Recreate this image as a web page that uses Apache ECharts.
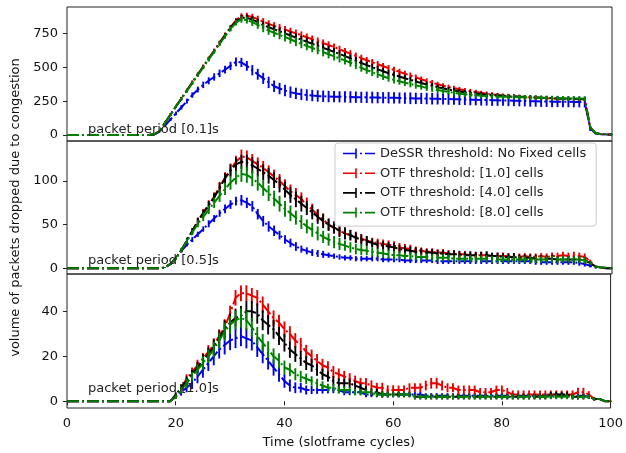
<!DOCTYPE html>
<html>
<head>
<meta charset="utf-8">
<script src="https://cdn.jsdelivr.net/npm/echarts@6/dist/echarts.min.js"></script>
<style>
html,body{margin:0;padding:0;background:#fff;}
#chart{width:626px;height:453px;}
</style>
</head>
<body>
<div id="chart"></div>
<script>
// ---- x samples (slotframe cycles) ----
const X = [0,1,2,3,4,5,6,7,8,9,10,11,12,13,14,15,16,17,18,19,20,21,22,23,24,25,26,27,28,29,30,31,32,33,34,35,36,37,38,39,40,41,42,43,44,45,46,47,48,49,50,51,52,53,54,55,56,57,58,59,60,61,62,63,64,65,66,67,68,69,70,71,72,73,74,75,76,77,78,79,80,81,82,83,84,85,86,87,88,89,90,91,92,93,94,95,96,97,98,99,100];

const SERIES_NAMES = ['DeSSR threshold: No Fixed cells','OTF threshold: [1.0] cells','OTF threshold: [4.0] cells','OTF threshold: [8.0] cells'];
const PANEL_LABELS = ['packet period [0.1]s','packet period [0.5]s','packet period [1.0]s'];
const X_TICKS = [0,20,40,60,80,100];
const Y_TICKS = [[0,250,500,750],[0,50,100],[0,20,40]];

// ---- panel 1: packet period 0.1 s ----
const blue1 = [0,0,0,0,0,0,0,0,0,0, 0,0,0,0,0,0,4,25,70,115, 160,205,250,295,335,370,400,428,455,482, 510,540,535,510,478,448,418,388,360,343, 328,316,307,300,295,291,288,286,284,283, 282,281,280,279,278,278,277,276,275,275, 274,273,272,271,270,270,269,268,267,266, 265,264,263,262,261,260,259,258,257,256, 255,254,253,252,251,250,249,248,247,246, 246,245,245,244,244,243,50,12,5,4, 3];
const red1 = [0,0,0,0,0,0,0,0,0,0, 0,0,0,0,0,0,5,30,92,152, 212,270,330,390,448,506,565,623,682,740, 795,845,878,880,870,855,836,820,805,791, 777,763,750,736,721,706,692,678,664,648, 632,616,600,583,567,551,537,522,507,493, 480,466,452,439,425,411,398,386,374,363, 353,345,337,330,323,317,311,305,300,296, 292,289,286,283,280,278,276,274,272,270, 268,267,266,265,264,262,55,14,6,5, 4];
const black1 = [0,0,0,0,0,0,0,0,0,0, 0,0,0,0,0,0,5,30,91,151, 211,269,328,387,445,503,561,619,677,734, 789,836,864,864,851,833,811,795,780,764, 749,734,718,703,688,673,658,643,629,613, 598,582,566,549,531,515,500,485,470,456, 443,431,419,407,395,384,373,363,353,344, 335,328,321,315,310,305,301,297,294,291, 288,286,284,282,280,278,276,274,273,272, 270,269,268,267,266,265,55,14,6,5, 4];
const green1 = [0,0,0,0,0,0,0,0,0,0, 0,0,0,0,0,0,5,30,90,150, 210,268,326,384,442,500,558,615,672,728, 782,828,852,848,832,812,788,770,754,738, 722,706,688,672,657,642,626,611,596,580, 565,550,533,515,496,479,463,448,433,419, 406,396,386,376,366,357,348,340,332,325, 318,311,305,300,296,293,290,288,286,284, 283,282,280,279,278,277,276,275,274,273, 272,271,270,270,269,268,55,15,6,5, 4];
const blue1Err = [0,0,0,0,0,0,0,0,0,0, 0,0,0,0,0,0,3,6,9,12, 14,16,18,20,22,24,26,27,28,29, 30,32,34,36,38,40,41,42,42,42, 42,42,42,42,42,42,42,42,42,42, 41,42,43,42,41,42,43,42,41,42, 42,41,42,43,42,41,42,43,42,41, 42,41,42,41,42,41,42,41,42,41, 40,41,40,41,40,41,40,41,40,41, 40,40,40,40,40,40,20,6,3,3, 2];
const red1Err = [0,0,0,0,0,0,0,0,0,0, 0,0,0,0,0,0,3,6,8,10, 11,12,12,13,13,14,14,15,15,16, 17,18,20,22,24,25,26,26,27,27, 27,28,28,28,28,28,27,27,27,27, 26,26,26,25,25,25,24,24,24,23, 23,22,22,22,21,21,20,20,19,19, 18,18,18,17,17,17,16,16,16,15, 15,15,15,14,14,14,14,14,13,13, 13,13,13,13,13,13,10,5,3,3, 2];
const black1Err = [0,0,0,0,0,0,0,0,0,0, 0,0,0,0,0,0,3,6,8,10, 11,12,13,13,14,14,15,15,16,17, 18,20,22,24,26,27,28,28,29,29, 29,30,30,30,30,29,29,29,28,28, 28,27,27,27,26,26,25,25,25,24, 24,23,23,22,22,21,21,20,20,19, 19,18,18,17,17,17,16,16,16,15, 15,15,15,14,14,14,14,14,13,13, 13,13,13,13,13,13,10,5,3,3, 2];
const green1Err = [0,0,0,0,0,0,0,0,0,0, 0,0,0,0,0,0,3,6,8,10, 11,12,13,14,14,15,16,16,17,18, 19,21,24,26,28,29,30,31,31,32, 32,32,32,32,32,31,31,31,31,30, 30,30,29,29,29,28,28,27,27,26, 26,25,25,24,24,23,23,22,22,21, 21,20,20,19,19,19,18,18,18,18, 17,17,17,17,17,17,17,17,17,17, 17,17,17,17,17,17,12,5,3,3, 2];

// ---- panel 2: packet period 0.5 s ----
const blue2 = [0,0,0,0,0,0,0,0,0,0, 0,0,0,0,0,0,0,0,1,5, 12,20,27,33,39,45,51,57,63,68, 73,77,78,75,71,62,54,48,43,38, 33,29,25,22,20,18,17,16,15,14, 13,12,12,11,11,11,11,11,10,10, 10,10,9,9,9,9,9,9,8,8, 8,8,8,8,8,8,8,8,8,8, 8,8,8,8,8,8,7,7,7,7, 7,7,7,7,6,5,3,1,1,0, 0];
const red2 = [0,0,0,0,0,0,0,0,0,0, 0,0,0,0,0,0,0,0,1,5, 12,21,32,43,54,64,73,82,93,104, 113,122,128,127,123,119,115,110,105,100, 94,88,84,79,73,67,61,56,50,46, 43,40,38,36,34,32,30,29,28,27, 26,24,23,22,21,20,19,19,18,18, 17,17,16,16,15,15,15,15,14,14, 14,14,13,13,14,13,13,14,13,14, 14,15,14,15,14,13,8,2,1,0, 0];
const black2 = [0,0,0,0,0,0,0,0,0,0, 0,0,0,0,0,0,0,0,1,5, 12,21,32,43,54,63,72,81,92,103, 112,119,122,121,118,114,110,106,101,96, 90,84,79,74,69,64,59,54,50,47, 43,40,38,35,33,31,29,27,26,25, 24,22,21,20,19,19,18,18,17,17, 16,16,16,15,15,15,15,15,14,14, 13,13,13,12,12,12,11,11,11,11, 10,10,10,10,10,9,6,2,1,0, 0];
const green2 = [0,0,0,0,0,0,0,0,0,0, 0,0,0,0,0,0,0,0,1,5, 12,21,31,41,51,59,67,75,83,91, 98,104,108,107,103,98,92,86,80,74, 68,63,58,53,48,44,40,36,33,30, 28,26,24,22,21,20,19,18,17,16, 15,15,14,14,13,13,13,12,12,12, 12,11,11,11,11,11,11,11,10,10, 10,10,10,10,10,10,10,10,10,10, 10,10,10,10,10,9,6,2,1,1, 0];
const blue2Err = [0,0,0,0,0,0,0,0,0,0, 0,0,0,0,0,0,0,0,0.5,1, 2,2,2,3,3,3,4,4,4,5, 5,5,6,6,6,6,6,6,6,5, 5,5,5,4,4,4,4,4,3,3, 3,3,3,3,3,3,3,3,3,3, 3,3,3,3,3,3,3,3,3,3, 3,3,3,3,3,3,3,3,3,3, 3,3,3,3,3,3,3,3,3,3, 3,3,3,3,3,3,2,1,0.5,0.5, 0.5];
const red2Err = [0,0,0,0,0,0,0,0,0,0, 0,0,0,0,0,0,0,0,0.5,1, 2,2,3,3,4,4,5,5,6,6, 7,7,8,8,8,8,8,8,8,8, 8,8,8,8,8,7,7,7,7,6, 6,6,6,6,5,5,5,5,5,5, 5,5,5,5,4,4,4,4,4,4, 4,4,3.5,4,4,3.5,4,4,3.5,4, 4,3.5,4,4,3.5,4,4,3.5,4,4, 4,4,4,4,4,4,2,1,0.5,0.5, 0.5];
const black2Err = [0,0,0,0,0,0,0,0,0,0, 0,0,0,0,0,0,0,0,0.5,1, 2,2,3,3,4,4,5,5,6,6, 7,8,8,9,9,9,9,9,9,9, 9,9,9,9,8,8,8,8,7,7, 7,7,6,6,6,6,5,5,5,5, 5,5,5,5,5,4,4,4,4,4, 4,4.5,4,4,4.5,4,4,4.5,4,4, 4,4,4.5,4,4,4,4.5,4,4,4, 4,4,4,4,4,4,2,1,0.5,0.5, 0.5];
const green2Err = [0,0,0,0,0,0,0,0,0,0, 0,0,0,0,0,0,0,0,0.5,1, 2,2,3,3,4,5,5,6,7,7, 8,8,9,9,9,9,9,9,9,9, 9,9,8,8,8,8,8,7,7,7, 7,6,6,6,6,5,5,5,5,5, 5,5,4,4,4,4,4,4,4,4, 4,4,4,4,4,4,4,4,4,4, 4,4,4,4,4,4,4,4,4,4, 4,4,4,4,4,4,2,1,0.5,0.5, 0.5];

// ---- panel 3: packet period 1.0 s ----
const blue3 = [0,0,0,0,0,0,0,0,0,0, 0,0,0,0,0,0,0,0,0,0, 2,4,6,8,11,14,17,20,23,25, 27,28,29,28,27,24,21,18,15,12, 9,7,6,6,5,5,5,5,5,5, 5,4,4,4,4,3,3,3,3,3, 3,3,3,3,3,3,2.5,2.5,2.5,2.5, 2.5,2.5,2.5,2.5,2.5,2.5,2.5,2.5,2.5,2.5, 2.5,2.5,2.5,2.5,2.5,2.5,2.5,2.5,2.5,2.5, 2.5,2.5,2.5,2.5,2.5,2.5,2,1,1,0, 0];
const red3 = [0,0,0,0,0,0,0,0,0,0, 0,0,0,0,0,0,0,0,0,0, 2,6,10,13,16,19,22,25,29,33, 39,46,48,48,47,46,43,40,37,35, 32,30,27,25,22,20,18,16,15,13, 12,11,10,9,8,8,7,6,6,5, 5,5,5,6,6,6,7,8,8,7, 6,6,5,5,5,5,4,4,4,5, 5,4,3,3,3,3,3,3,3,3, 3,3,3,3,4,4,3,1,1,0, 0];
const black3 = [0,0,0,0,0,0,0,0,0,0, 0,0,0,0,0,0,0,0,0,0, 3,6,9,12,15,18,21,24,28,32, 35,37,38,40,40,39,36,34,32,29, 26,23,21,19,17,16,14,12,11,9, 8,8,8,7,6,5,4,4,3,3, 3,3,3,3,2,2,2,2,2,2, 2,2,2,2,2,2,2,2,2,2, 2,2,2,2,2,2,2,2,2,3, 3,3,3,2,2,2,2,1,1,0, 0];
const green3 = [0,0,0,0,0,0,0,0,0,0, 0,0,0,0,0,0,0,0,0,0, 2,5,8,11,14,17,20,23,27,31, 34,36,37,36,33,29,26,23,20,18, 15,14,12,11,10,9,8,7,6,6, 5,5,5,4,4,4,4,3,3,3, 3,3,3,3,2,2,2,2,2,2, 2,2,2,2,2,2,2,2,2,2, 2,2,2,2,2,2,2,2,2,2, 2,2,2,2,2,2,2,1,1,0, 0];
const blue3Err = [0,0,0,0,0,0,0,0,0,0, 0,0,0,0,0,0,0,0,0,0.3, 1,1.5,2,2.5,3,3.5,3.5,4,4,4.2, 4.3,4.4,4.5,4.5,4.4,4.3,4.1,3.9,3.6,3.3, 3,2.7,2.4,2.2,2,1.8,1.7,1.6,1.5,1.4, 1.3,1.3,1.3,1.2,1.2,1.2,1.2,1.2,1.2,1.2, 1.2,1.2,1.1,1.1,1.1,1.1,1.1,1.1,1.1,1.1, 1.1,1.1,1.1,1.1,1.1,1.1,1.1,1.1,1.1,1.1, 1.1,1.1,1.1,1.1,1.1,1.1,1.1,1.1,1.1,1.1, 1.1,1.1,1.1,1.1,1.1,1.1,1,0.6,0.3,0.2, 0.2];
const red3Err = [0,0,0,0,0,0,0,0,0,0, 0,0,0,0,0,0,0,0,0,0.3, 1,1.5,2,2,2.5,2.5,3,3,3,3.5, 3.5,3.5,3.5,3.6,3.4,3.5,3.6,3.5,3.4,3.5, 3.5,3.4,3.3,3.2,3.1,3,3,2.9,2.8,2.7, 2.6,2.5,2.5,2.4,2.4,2.3,2.3,2.2,2.2,2.1, 2.1,2,2,2,2,2,2.2,2.4,2.4,2.2, 2,2,2,2,2,2,1.9,1.9,1.9,2, 2,1.9,1.8,1.8,1.8,1.8,1.8,1.8,1.8,1.8, 1.8,1.8,1.8,1.8,2,2,1.5,0.8,0.4,0.3, 0.2];
const black3Err = [0,0,0,0,0,0,0,0,0,0, 0,0,0,0,0,0,0,0,0,0.3, 1,1.5,2,2,2.5,3,3,3.5,3.5,4, 4,4.2,4.4,4.5,4.5,4.5,4.4,4.3,4.2,4, 3.9,3.7,3.5,3.3,3.1,2.9,2.7,2.5,2.3,2.2, 2.1,2,2,1.9,1.8,1.7,1.6,1.5,1.4,1.3, 1.2,1.2,1.2,1.2,1.2,1.2,1.2,1.2,1.2,1.2, 1.2,1.2,1.2,1.2,1.2,1.2,1.2,1.2,1.2,1.2, 1.2,1.2,1.2,1.2,1.2,1.2,1.2,1.2,1.2,1.2, 1.2,1.2,1.2,1.2,1.2,1.2,1,0.6,0.3,0.2, 0.2];
const green3Err = [0,0,0,0,0,0,0,0,0,0, 0,0,0,0,0,0,0,0,0,0.3, 1,1.5,2,2,2.5,3,3,3.5,3.5,4, 4,4.2,4.3,4.3,4.2,4,3.9,3.7,3.5,3.3, 3.1,2.9,2.7,2.5,2.3,2.1,2,1.9,1.8,1.7, 1.6,1.5,1.5,1.4,1.4,1.3,1.3,1.2,1.2,1.2, 1.2,1.2,1.2,1.2,1.1,1.1,1.1,1.1,1.1,1.1, 1.1,1.1,1.1,1.1,1.1,1.1,1.1,1.1,1.1,1.1, 1.1,1.1,1.1,1.1,1.1,1.1,1.1,1.1,1.1,1.1, 1.1,1.1,1.1,1.1,1.1,1.1,1,0.6,0.3,0.2, 0.2];

// ---- assemble ----
const COLORS = ['#0000e6','#e60000','#000000','#008000'];
const PANELS = [
  {vals:[blue1,red1,black1,green1], errs:[blue1Err,red1Err,black1Err,green1Err], min:-44, max:944},
  {vals:[blue2,red2,black2,green2], errs:[blue2Err,red2Err,black2Err,green2Err], min:-6.5, max:145.8},
  {vals:[blue3,red3,black3,green3], errs:[blue3Err,red3Err,black3Err,green3Err], min:-3, max:56.6}
];
const FONT = 'DejaVu Sans';
const GRID_TOPS = [7,141,274];
const GRID_HEIGHTS = [134,133,134];

const grids = [], xAxes = [], yAxes = [], series = [];
PANELS.forEach((p, k) => {
  grids.push({left:67, right:14, top:GRID_TOPS[k], height:GRID_HEIGHTS[k], show:true, borderColor:'#222', borderWidth:1, backgroundColor:'transparent'});
  const bottom = (k === 2);
  xAxes.push({
    type:'value', gridIndex:k, min:0, max:100, show:true,
    axisLine:{show:false},
    axisTick:{show:bottom, inside:false, length:4, lineStyle:{color:'#222'}, customValues:X_TICKS},
    axisLabel:{show:bottom, margin:9, fontSize:13, fontFamily:FONT, color:'#111', customValues:X_TICKS},
    splitLine:{show:false},
    name: bottom ? 'Time (slotframe cycles)' : '',
    nameLocation:'middle', nameGap:28,
    nameTextStyle:{fontSize:13, fontFamily:FONT, color:'#111'}
  });
  yAxes.push({
    type:'value', gridIndex:k, min:p.min, max:p.max,
    axisLine:{show:false},
    axisTick:{show:true, inside:false, length:4, lineStyle:{color:'#222'}, customValues:Y_TICKS[k]},
    axisLabel:{margin:9, fontSize:13, fontFamily:FONT, color:'#111', customValues:Y_TICKS[k]},
    splitLine:{show:false},
    name: k === 1 ? 'volume of packets dropped due to congestion' : '',
    nameLocation:'middle', nameRotate:90, nameGap:40,
    nameTextStyle:{fontSize:13, fontFamily:FONT, color:'#111'}
  });
  p.vals.forEach((v, s) => {
    const color = COLORS[s];
    series.push({
      type:'line', name:SERIES_NAMES[s], xAxisIndex:k, yAxisIndex:k,
      data: X.map((x,i) => [x, v[i]]),
      showSymbol:false, symbol:'none', color:color,
      lineStyle:{color:color, width:2, type:[12,3,2,3]},
      z: 2 + s, animation:false
    });
    const e = p.errs[s];
    series.push({
      type:'custom', xAxisIndex:k, yAxisIndex:k,
      data: X.map((x,i) => [x, v[i], e[i]]),
      encode:{x:0, y:1},
      renderItem: (params, api) => {
        const x = api.value(0), y = api.value(1), er = api.value(2);
        if (!er) return null;
        const a = api.coord([x, y - er]);
        const b = api.coord([x, y + er]);
        return {type:'line', shape:{x1:a[0], y1:a[1], x2:b[0], y2:b[1]}, style:{stroke:color, lineWidth:1.9}};
      },
      z: 2 + s, animation:false, silent:true
    });
  });
});

const LABEL_Y = [130, 260.7, 388.3];
const graphics = PANEL_LABELS.map((t, k) => ({
  type:'text', x:88, y:LABEL_Y[k], z:100,
  style:{text:t, fontSize:13, fontFamily:FONT, fill:'#222', verticalAlign:'middle', align:'left'}
}));

const ICON = 'path://M0,4.2h13v1.6h-13z M12.2,0h1.6v10h-1.6z M17,4.2h2v1.6h-2z M22,4.2h10v1.6h-10z';

const chart = echarts.init(document.getElementById('chart'), null, {renderer:'canvas'});
chart.setOption({
  animation:false,
  backgroundColor:'#fff',
  grid:grids, xAxis:xAxes, yAxis:yAxes, series:series,
  graphic:graphics,
  legend:{
    data: SERIES_NAMES.map(n => ({name:n, icon:ICON})),
    orient:'vertical', left:335, top:143,
    itemWidth:32, itemHeight:10, itemGap:4.7,
    padding:[3,10,6,8],
    backgroundColor:'rgba(255,255,255,0.85)', borderColor:'#cccccc', borderWidth:1, borderRadius:3,
    textStyle:{fontSize:13, fontFamily:FONT, color:'#222', lineHeight:15},
    selectedMode:false, z:50
  }
});
</script>
</body>
</html>
